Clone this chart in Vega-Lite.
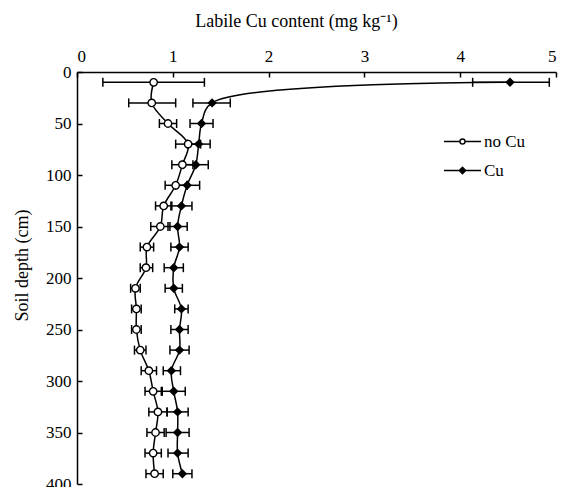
{
  "$schema": "https://vega.github.io/schema/vega-lite/v6.json",
  "width": 479,
  "height": 412,
  "autosize": "none",
  "padding": {"left": 77, "top": 72, "right": 5, "bottom": 3},
  "background": "white",
  "config": {
    "font": "Liberation Serif",
    "view": {"stroke": null},
    "axis": {
      "grid": false,
      "domainColor": "black",
      "domainWidth": 1.5,
      "tickColor": "black",
      "tickWidth": 1.5,
      "tickSize": -5,
      "labelColor": "black",
      "labelFont": "Liberation Serif",
      "labelFontSize": 17,
      "titleFont": "Liberation Serif",
      "titleFontSize": 18,
      "titleFontWeight": "normal",
      "titleColor": "black"
    }
  },
  "data": {
    "values": [
      {"series": "no Cu", "depth": 10, "mean": 0.80, "lo": 0.27, "hi": 1.33},
      {"series": "no Cu", "depth": 30, "mean": 0.78, "lo": 0.54, "hi": 1.03},
      {"series": "no Cu", "depth": 50, "mean": 0.95, "lo": 0.86, "hi": 1.04},
      {"series": "no Cu", "depth": 70, "mean": 1.16, "lo": 1.03, "hi": 1.29},
      {"series": "no Cu", "depth": 90, "mean": 1.10, "lo": 0.99, "hi": 1.21},
      {"series": "no Cu", "depth": 110, "mean": 1.03, "lo": 0.92, "hi": 1.15},
      {"series": "no Cu", "depth": 130, "mean": 0.905, "lo": 0.82, "hi": 0.99},
      {"series": "no Cu", "depth": 150, "mean": 0.87, "lo": 0.77, "hi": 0.97},
      {"series": "no Cu", "depth": 170, "mean": 0.73, "lo": 0.66, "hi": 0.80},
      {"series": "no Cu", "depth": 190, "mean": 0.72, "lo": 0.66, "hi": 0.79},
      {"series": "no Cu", "depth": 210, "mean": 0.61, "lo": 0.56, "hi": 0.66},
      {"series": "no Cu", "depth": 230, "mean": 0.62, "lo": 0.57, "hi": 0.67},
      {"series": "no Cu", "depth": 250, "mean": 0.62, "lo": 0.57, "hi": 0.67},
      {"series": "no Cu", "depth": 270, "mean": 0.66, "lo": 0.60, "hi": 0.72},
      {"series": "no Cu", "depth": 290, "mean": 0.75, "lo": 0.67, "hi": 0.83},
      {"series": "no Cu", "depth": 310, "mean": 0.795, "lo": 0.71, "hi": 0.88},
      {"series": "no Cu", "depth": 330, "mean": 0.845, "lo": 0.75, "hi": 0.94},
      {"series": "no Cu", "depth": 350, "mean": 0.82, "lo": 0.73, "hi": 0.91},
      {"series": "no Cu", "depth": 370, "mean": 0.795, "lo": 0.71, "hi": 0.88},
      {"series": "no Cu", "depth": 390, "mean": 0.81, "lo": 0.72, "hi": 0.90},
      {"series": "Cu", "depth": 10, "mean": 4.52, "lo": 4.13, "hi": 4.93},
      {"series": "Cu", "depth": 30, "mean": 1.41, "lo": 1.21, "hi": 1.60},
      {"series": "Cu", "depth": 50, "mean": 1.30, "lo": 1.18, "hi": 1.42},
      {"series": "Cu", "depth": 70, "mean": 1.27, "lo": 1.15, "hi": 1.39},
      {"series": "Cu", "depth": 90, "mean": 1.24, "lo": 1.11, "hi": 1.37},
      {"series": "Cu", "depth": 110, "mean": 1.15, "lo": 1.03, "hi": 1.28},
      {"series": "Cu", "depth": 130, "mean": 1.09, "lo": 0.98, "hi": 1.20},
      {"series": "Cu", "depth": 150, "mean": 1.05, "lo": 0.95, "hi": 1.15},
      {"series": "Cu", "depth": 170, "mean": 1.07, "lo": 0.98, "hi": 1.16},
      {"series": "Cu", "depth": 190, "mean": 1.01, "lo": 0.91, "hi": 1.11},
      {"series": "Cu", "depth": 210, "mean": 1.01, "lo": 0.92, "hi": 1.10},
      {"series": "Cu", "depth": 230, "mean": 1.09, "lo": 1.02, "hi": 1.16},
      {"series": "Cu", "depth": 250, "mean": 1.07, "lo": 0.98, "hi": 1.16},
      {"series": "Cu", "depth": 270, "mean": 1.07, "lo": 0.97, "hi": 1.17},
      {"series": "Cu", "depth": 290, "mean": 0.985, "lo": 0.90, "hi": 1.08},
      {"series": "Cu", "depth": 310, "mean": 1.01, "lo": 0.89, "hi": 1.13},
      {"series": "Cu", "depth": 330, "mean": 1.05, "lo": 0.94, "hi": 1.16},
      {"series": "Cu", "depth": 350, "mean": 1.05, "lo": 0.93, "hi": 1.17},
      {"series": "Cu", "depth": 370, "mean": 1.05, "lo": 0.95, "hi": 1.16},
      {"series": "Cu", "depth": 390, "mean": 1.10, "lo": 1.00, "hi": 1.20}
    ]
  },
  "encoding": {
    "y": {
      "field": "depth",
      "type": "quantitative",
      "scale": {"domain": [0, 400], "reverse": true, "nice": false, "zero": false},
      "axis": {
        "values": [0, 50, 100, 150, 200, 250, 300, 350, 400],
        "labelPadding": 11,
        "title": "Soil depth (cm)",
        "titlePadding": 14,
        "titleY": 193
      }
    }
  },
  "resolve": {
    "scale": {"shape": "independent", "fill": "independent", "stroke": "independent"},
    "legend": {"shape": "independent", "fill": "independent", "stroke": "independent"}
  },
  "layer": [
    {
      "mark": {"type": "rule", "color": "black", "strokeWidth": 1.5},
      "encoding": {
        "x": {
          "field": "lo",
          "type": "quantitative",
          "scale": {"domain": [0, 5], "nice": false},
          "axis": {
            "orient": "top",
            "values": [0, 1, 2, 3, 4, 5],
            "format": "d",
            "labelPadding": 12,
            "title": "Labile Cu content (mg kg⁻¹)",
            "titlePadding": 17,
            "titleX": 219
          }
        },
        "x2": {"field": "hi"}
      }
    },
    {
      "mark": {"type": "tick", "orient": "vertical", "color": "black", "size": 9, "thickness": 1.5, "opacity": 1},
      "encoding": {"x": {"field": "lo", "type": "quantitative"}}
    },
    {
      "mark": {"type": "tick", "orient": "vertical", "color": "black", "size": 9, "thickness": 1.5, "opacity": 1},
      "encoding": {"x": {"field": "hi", "type": "quantitative"}}
    },
    {
      "mark": {"type": "line", "interpolate": "catmull-rom", "color": "black", "strokeWidth": 1.5},
      "encoding": {
        "x": {"field": "mean", "type": "quantitative"},
        "detail": {"field": "series", "type": "nominal"},
        "order": {"field": "depth", "type": "quantitative"}
      }
    },
    {
      "mark": {"type": "point", "filled": true, "opacity": 1, "stroke": "black", "strokeWidth": 1.4, "size": 55},
      "encoding": {
        "x": {"field": "mean", "type": "quantitative"},
        "shape": {
          "field": "series",
          "type": "nominal",
          "scale": {"domain": ["no Cu", "Cu"], "range": ["circle", "diamond"]},
          "legend": null
        },
        "fill": {
          "field": "series",
          "type": "nominal",
          "scale": {"domain": ["no Cu", "Cu"], "range": ["white", "black"]},
          "legend": null
        }
      }
    },
    {
      "transform": [{"filter": "datum.depth < 0"}],
      "mark": {"type": "point", "filled": false, "opacity": 1, "strokeWidth": 1.4, "size": 100},
      "encoding": {
        "x": {"field": "mean", "type": "quantitative"},
        "stroke": {
          "field": "series",
          "type": "nominal",
          "scale": {"domain": ["no Cu", "Cu"], "range": ["black", "black"]},
          "legend": {
            "title": null,
            "orient": "none",
            "legendX": 377,
            "legendY": 61,
            "padding": 0,
            "symbolSize": 100,
            "symbolStrokeWidth": 1.4,
            "labelOffset": 13,
            "labelFontSize": 17,
            "labelFont": "Liberation Serif",
            "labelColor": "black",
            "rowPadding": 11
          }
        },
        "shape": {
          "field": "series",
          "type": "nominal",
          "scale": {
            "domain": ["no Cu", "Cu"],
            "range": [
              "M-3.7,0H-0.5M0.5,0H3.7M-0.5,0A0.5,0.5,0,1,1,0.5,0A0.5,0.5,0,1,1,-0.5,0Z",
              "M-3.7,0H3.7M0,-0.65L0.65,0L0,0.65L-0.65,0ZM0,-0.4L0.4,0L0,0.4L-0.4,0ZM0,-0.15L0.15,0L0,0.15L-0.15,0Z"
            ]
          }
        }
      }
    }
  ]
}
